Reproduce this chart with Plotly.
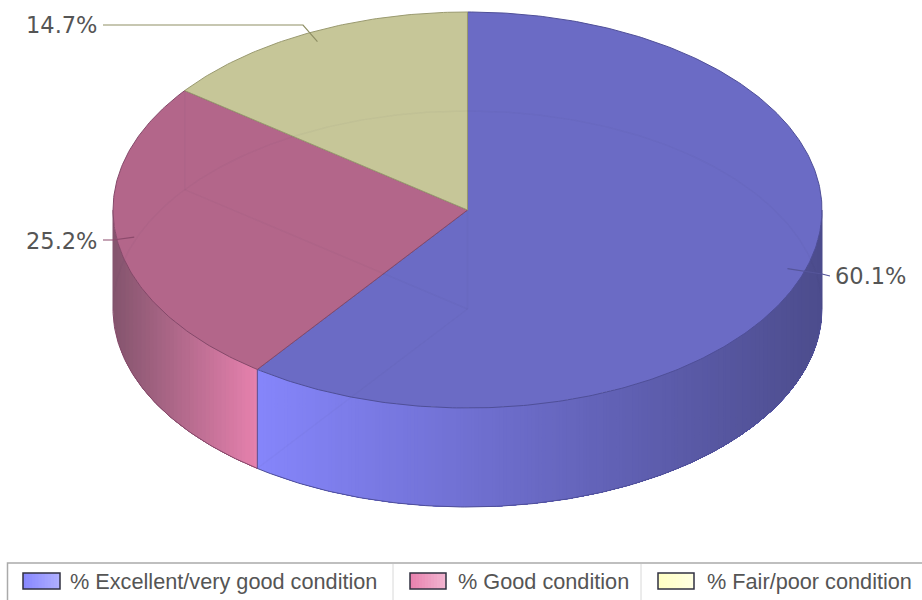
import numpy as np
import plotly.graph_objects as go

# ---- data ----
categories = ["% Excellent/very good condition", "% Good condition", "% Fair/poor condition"]
shares = [60.1, 25.2, 14.7]
labels = ["60.1%", "25.2%", "14.7%"]

# ---- styles ----
top_colors = ["#6b6bc5", "#b3668a", "#c6c698"]
edge_colors = ["#4f4f98", "#85496a", "#9a9a70"]
side_light = [(133, 133, 250), (232, 130, 175), (255, 255, 204)]
side_dark = [(76, 76, 140), (133, 85, 110), (140, 140, 110)]
swatch_left = [(136, 136, 255), (232, 130, 175), (255, 255, 196)]
swatch_right = [(175, 175, 255), (242, 180, 208), (255, 255, 225)]
leader_colors = ["#55559a", "#8c4a6c", "#8f8f64"]

# ---- geometry (pixel space) ----
CX, CY, RX, RY, DEPTH = 467.5, 210.0, 354.5, 198.0, 99.0
W, H = 922, 600


def pt(theta, k=1.0, dy=0.0):
    return CX + RX * k * np.sin(theta), CY - RY * k * np.cos(theta) + dy


fracs = np.array(shares) / sum(shares)
edges = np.concatenate([[0], np.cumsum(fracs)]) * 2 * np.pi
fig = go.Figure()


def poly(xs, ys, fill=None, line=None, width=0):
    fig.add_trace(go.Scatter(
        x=list(xs), y=list(ys), mode="lines",
        fill="toself" if fill else "none",
        fillcolor=fill,
        line=dict(color=line or "rgba(0,0,0,0)", width=width),
        hoverinfo="skip", showlegend=False))


def arc(a, b, dy=0.0, n=None):
    n = n or max(3, int(abs(b - a) * 90))
    t = np.linspace(a, b, n)
    return pt(t, dy=dy)


def side_range(a, b, color_left, color_right):
    """Front wall between two angles, painted as a left-to-right gradient."""
    xa = pt(b)[0]
    xb = pt(a)[0]
    lo, hi = min(xa, xb), max(xa, xb)
    t = np.linspace(a, b, 220)
    xtop, ytop = pt(t)
    xbot, ybot = pt(t, dy=DEPTH)
    for s in np.arange(lo, hi, 4.0):
        f = (s - lo) / (hi - lo)
        c = [int(round(color_left[i] * (1 - f) + color_right[i] * f)) for i in range(3)]
        mask = xtop >= s
        if mask.sum() < 2:
            continue
        xs = np.concatenate([xtop[mask], xbot[mask][::-1]])
        ys = np.concatenate([ytop[mask], ybot[mask][::-1]])
        poly(xs, ys, fill=f"rgb({c[0]},{c[1]},{c[2]})")


side_range(np.pi / 2, edges[1], side_light[0], side_dark[0])
side_range(edges[1], 3 * np.pi / 2, side_dark[1], side_light[1])

# outlines of the walls
x0, y0 = arc(np.pi / 2, edges[1], dy=DEPTH)
poly(x0, y0, line=edge_colors[0], width=1)
x1, y1 = arc(edges[1], 3 * np.pi / 2, dy=DEPTH)
poly(x1, y1, line=edge_colors[1], width=1)
xa, ya = pt(edges[1])
poly([xa, xa], [ya, ya + DEPTH], line=edge_colors[0], width=1)
for ang, col in [(np.pi / 2, side_dark[0]), (3 * np.pi / 2, side_dark[1])]:
    xa, ya = pt(ang)
    poly([xa, xa], [ya, ya + DEPTH], line=f"rgb({col[0]},{col[1]},{col[2]})", width=1)

# top faces
for i in range(3):
    ax, ay = arc(edges[i], edges[i + 1])
    xs = np.concatenate([[CX], ax, [CX]])
    ys = np.concatenate([[CY], ay, [CY]])
    poly(xs, ys, fill=top_colors[i], line=edge_colors[i], width=1)

# faint see-through edges of the back and the floor
faint = "rgba(60,60,90,0.035)"
bx, by = arc(-np.pi / 2, np.pi / 2, dy=DEPTH)
poly(bx, by, line=faint, width=1.5)
for ang in edges[:3]:
    xa, ya = pt(ang, dy=DEPTH)
    poly([CX, xa], [CY + DEPTH, ya], line=faint, width=1.5)
for ang in [edges[0], edges[2]]:
    xa, ya = pt(ang)
    poly([xa, xa], [ya, ya + DEPTH], line=faint, width=1.5)

# leader lines and labels
label_pos = [(833, 276, "left"), (99, 241, "right"), (99, 25, "right")]
elbows = [(822, 274), (113, 240), (303, 25)]
tails = [(830, 276), (103, 240), (103, 25)]
annotations = []
for i in range(3):
    mid = (edges[i] + edges[i + 1]) / 2
    ax, ay = pt(mid, k=0.95)
    poly([ax, elbows[i][0], tails[i][0]], [ay, elbows[i][1], tails[i][1]],
         line=leader_colors[i], width=1.2)
    annotations.append(dict(x=label_pos[i][0], y=label_pos[i][1], xref="x", yref="y",
                            text=labels[i], showarrow=False, xanchor=label_pos[i][2],
                            yanchor="middle", xshift=0,
                            font=dict(family="DejaVu Sans", size=22.5, color="#555555")))

# legend box
shapes = [dict(type="rect", x0=7.5, y0=563, x1=930, y1=610, xref="x", yref="y",
               line=dict(color="#aaaaaa", width=1.5), fillcolor="white", layer="below")]
for xd in (393, 641):
    shapes.append(dict(type="line", x0=xd, x1=xd, y0=564, y1=600, xref="x", yref="y",
                       line=dict(color="#d8d8d8", width=1)))
swatch_x = [(23, 60), (410, 446), (658, 694)]
text_x = [68, 456, 705]
for i in range(3):
    a, b = swatch_x[i]
    n = 12
    grid = np.linspace(a, b, n + 1)
    for j in range(n):
        f = j / (n - 1)
        c = [int(round(swatch_left[i][k] * (1 - f) + swatch_right[i][k] * f)) for k in range(3)]
        shapes.append(dict(type="rect", x0=grid[j], x1=b, y0=573, y1=589, xref="x", yref="y",
                           line=dict(width=0), fillcolor=f"rgb({c[0]},{c[1]},{c[2]})"))
    shapes.append(dict(type="rect", x0=a, x1=b, y0=573, y1=589, xref="x", yref="y",
                       line=dict(color="#303040", width=1.5), fillcolor="rgba(0,0,0,0)"))
    annotations.append(dict(x=text_x[i], y=581, xref="x", yref="y", text=categories[i],
                            showarrow=False, xanchor="left", yanchor="middle",
                            font=dict(family="Liberation Sans", size=21.7, color="#555555")))

fig.update_layout(
    width=W, height=H, margin=dict(l=0, r=0, t=0, b=0),
    paper_bgcolor="white", plot_bgcolor="white", showlegend=False,
    xaxis=dict(range=[0, W], visible=False, fixedrange=True),
    yaxis=dict(range=[H, 0], visible=False, fixedrange=True),
    shapes=shapes, annotations=annotations,
)
fig.write_html("out.html", config={"displayModeBar": False},
               post_script="document.body.style.margin='0';")
